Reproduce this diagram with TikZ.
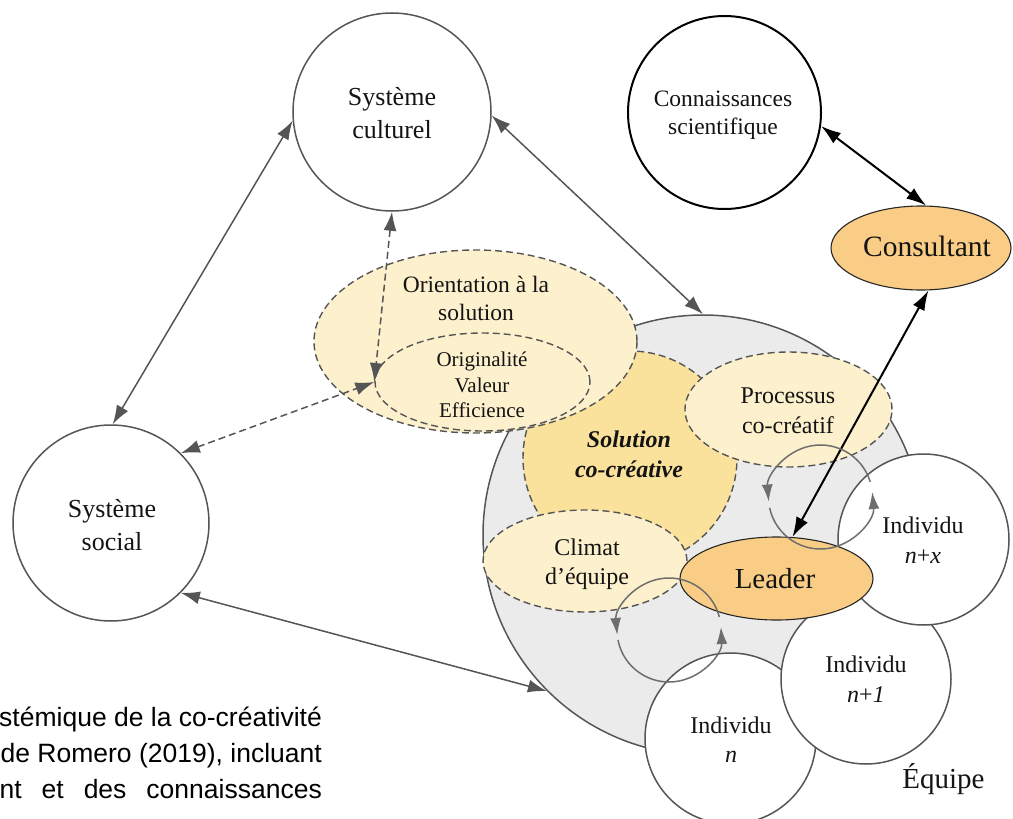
\documentclass[tikz,border=0pt]{standalone}
\usepackage{fontspec}
\setmainfont{Liberation Serif}
\newfontfamily\capfont{Liberation Sans}
\usetikzlibrary{shapes.geometric,arrows.meta}
\definecolor{teamgray}{HTML}{EBEBEB}
\definecolor{linegray}{HTML}{555555}
\definecolor{paleyel}{HTML}{FDF0CC}
\definecolor{solyel}{HTML}{FBE29C}
\definecolor{orng}{HTML}{F9CD86}
\tikzset{
  sysc/.style={circle, draw=linegray, line width=1.5pt, fill=white, inner sep=0pt},
  zone/.style={ellipse, draw=linegray, line width=1.4pt, dash pattern=on 7pt off 4pt, fill=paleyel, inner sep=0pt},
  actor/.style={ellipse, draw=black!85, line width=1.1pt, fill=orng, inner sep=0pt},
  gline/.style={draw=linegray, line width=1.5pt, arrows={Latex[length=19pt,width=13pt]-Latex[length=19pt,width=13pt]}},
  dline/.style={draw=linegray, line width=1.5pt, dash pattern=on 7pt off 4pt, arrows={Latex[length=19pt,width=13pt]-Latex[length=19pt,width=13pt]}},
  bline/.style={draw=black, line width=2pt, arrows={Latex[length=20pt,width=13pt]-Latex[length=20pt,width=13pt]}},
  loopar/.style={draw=linegray!85, line width=1.5pt, arrows={-Latex[length=17pt,width=11pt]}},
  lbl/.style={anchor=base, inner sep=0pt, text=black!92},
}
\begin{document}
\begin{tikzpicture}[x=1pt,y=-1pt]
\useasboundingbox (0,0) rectangle (1013,819);
\clip (0,0) rectangle (1013,819);

% team area
\node[circle, draw=linegray, line width=1.5pt, fill=teamgray, inner sep=0pt, minimum size=440pt] (team) at (703,535) {};
\node[circle, draw=linegray, line width=1.4pt, dash pattern=on 7pt off 4pt, fill=solyel, inner sep=0pt, minimum size=214pt] (sol) at (630,458) {};
\node[zone, minimum width=323pt, minimum height=183pt] (orient) at (475.5,341.5) {};
\node[zone, minimum width=215pt, minimum height=98pt] (orig) at (482.5,382) {};
\node[zone, minimum width=207pt, minimum height=115pt] (proc) at (788.5,409.5) {};
\node[zone, minimum width=204pt, minimum height=102pt] (clim) at (585,561) {};

% individuals
\node[sysc, minimum size=171pt] (indn) at (730.5,738.5) {};
\node[sysc, minimum size=170pt] (indn1) at (866,679) {};
\node[sysc, minimum size=171pt] (indnx) at (923.5,539.5) {};
\node[actor, minimum width=193pt, minimum height=83pt] (lead) at (776.5,578.5) {};

% systems
\node[sysc, minimum size=198pt] (cult) at (392,112) {};
\node[sysc, minimum size=196pt] (soc) at (111,523) {};
\node[circle, draw=black, line width=2pt, fill=white, inner sep=0pt, minimum size=193pt] (conn) at (724.5,112.5) {};
\node[actor, minimum width=180pt, minimum height=84pt] (cons) at (921,248) {};

% connectors
\draw[gline] (cult.185) -- (soc.89);
\draw[gline] (cult.-2) -- (team.north);
\draw[gline] (soc.-45) -- (team.225);
\draw[dline] (cult.south) -- (orig.west);
\draw[dline] (soc.45) -- (orig.west);
\draw[bline] (conn.-8.6) -- (cons.83);
\draw[bline] (cons.-80) -- (lead.69.5);

% loops
\coordinate (loopA) at (820.5,497);
\coordinate (loopB) at (669,630);
\draw[loopar] (loopA) ++(-17:52) arc[start angle=-17, end angle=-185, radius=52];
\draw[loopar] (loopA) ++(168:52) arc[start angle=168, end angle=-5.5, radius=52];
\draw[loopar] (loopB) ++(-14.5:52) arc[start angle=-14.5, end angle=-185.5, radius=52];
\draw[loopar] (loopB) ++(169:52) arc[start angle=169, end angle=-3.3, radius=52];

% labels
\begin{scope}[every node/.style={lbl}]
\node[font=\fontsize{26}{30}\selectfont] (t1) at (392,105) {Système};
\node[font=\fontsize{26}{30}\selectfont] (t2) at (392,138) {culturel};
\node[font=\fontsize{26}{30}\selectfont] (t3) at (112,517) {Système};
\node[font=\fontsize{26}{30}\selectfont] (t4) at (112,550) {social};
\node[font=\fontsize{23.5}{28}\selectfont] (t5) at (723,106) {Connaissances};
\node[font=\fontsize{23.5}{28}\selectfont] (t6) at (723,134) {scientifique};
\node[font=\fontsize{29.5}{32}\selectfont] (t7) at (927,256) {Consultant};
\node[font=\fontsize{23.5}{28}\selectfont] (t8) at (476,292) {Orientation à la};
\node[font=\fontsize{23.5}{28}\selectfont] (t9) at (476,320) {solution};
\node[font=\fontsize{21}{25}\selectfont] (t10) at (482,366) {Originalité};
\node[font=\fontsize{21}{25}\selectfont] (t11) at (482,392) {Valeur};
\node[font=\fontsize{21}{25}\selectfont] (t12) at (482,417) {Efficience};
\node[font=\fontsize{24}{28}\selectfont\bfseries\itshape] (t13) at (629,447) {Solution};
\node[font=\fontsize{24}{28}\selectfont\bfseries\itshape] (t14) at (629,477) {co-créative};
\node[font=\fontsize{24}{28}\selectfont] (t15) at (788,403) {Processus};
\node[font=\fontsize{24}{28}\selectfont] (t16) at (788,433) {co-créatif};
\node[font=\fontsize{24}{28}\selectfont] (t17) at (587,555) {Climat};
\node[font=\fontsize{24}{28}\selectfont] (t18) at (587,584) {d’équipe};
\node[font=\fontsize{29}{32}\selectfont] (t19) at (775,588) {Leader};
\node[font=\fontsize{24}{28}\selectfont] (t20) at (923,533) {Individu};
\node[font=\fontsize{24}{28}\selectfont] (t21) at (923,563) {\textit{n}+\textit{x}};
\node[font=\fontsize{24}{28}\selectfont] (t22) at (866,672) {Individu};
\node[font=\fontsize{24}{28}\selectfont] (t23) at (866,702) {\textit{n}+\textit{1}};
\node[font=\fontsize{24}{28}\selectfont] (t24) at (731,733) {Individu};
\node[font=\fontsize{24}{28}\selectfont] (t25) at (731,762) {\textit{n}};
\node[font=\fontsize{29}{32}\selectfont] (t26) at (943.5,788) {Équipe};
\end{scope}

% caption fragment
\begin{scope}[every node/.style={anchor=base east, inner sep=0pt, font=\capfont\fontsize{26.5}{39}\selectfont}]
\node (c1) at (322,726) {stémique de la co-créativité};
\node (c2) at (322,762) {de Romero (2019), incluant};
\node (c3) at (322,798) {nt\hspace{20pt}et\hspace{20pt}des\hspace{20pt}connaissances};
\end{scope}
\end{tikzpicture}
\end{document}
